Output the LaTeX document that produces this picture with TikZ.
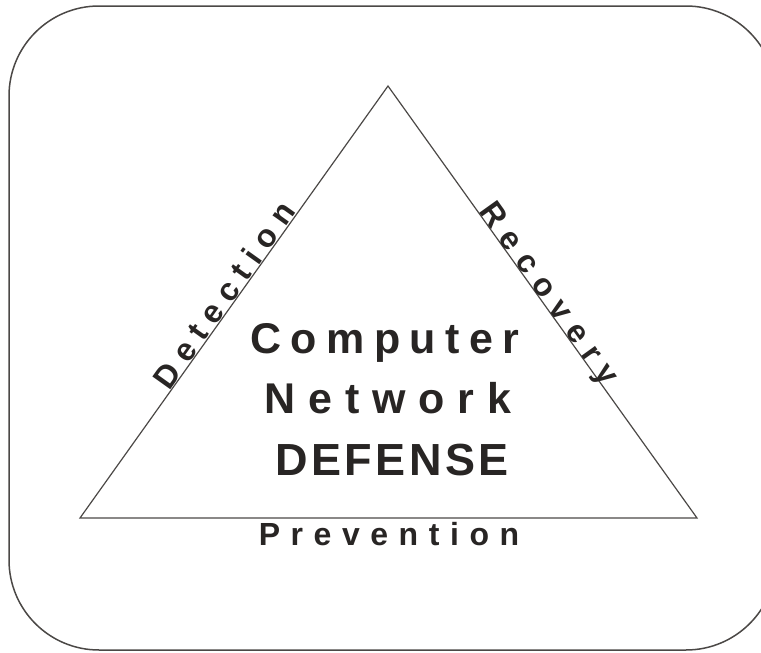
\documentclass[tikz,border=0pt]{standalone}
\usepackage{fontspec}
\setmainfont{Liberation Sans}
\definecolor{ink}{RGB}{40,37,36}
\definecolor{frame}{RGB}{75,72,70}
\newcommand{\spaced}[2]{\addfontfeatures{LetterSpace=#1}#2}
\begin{document}
\begin{tikzpicture}[x=1pt,y=-1pt,
  every node/.style={text=ink,font=\bfseries,inner sep=0pt},
  sidelabel/.style={font=\fontsize{32}{36}\selectfont\bfseries},
  biglabel/.style={font=\fontsize{43}{50}\selectfont\bfseries,anchor=base}]
\useasboundingbox (0,0) rectangle (761,653);
% outer rounded frame (runs past the right edge)
\draw[frame,line width=1.5pt,rounded corners=90pt] (9,6) rectangle (776,650);
% the triangle
\coordinate (L) at (80,518);
\coordinate (A) at (388,86);
\coordinate (R) at (697,518);
\draw[frame,line width=1.2pt,line join=miter] (L) -- (A) -- (R) -- cycle;
% side labels
\path (L) -- node[sidelabel,sloped,pos=0.5,anchor=base,yshift=1pt] (det) {\spaced{29}{Detection}} (A);
\path (A) -- node[sidelabel,sloped,pos=0.495,anchor=base,yshift=0.5pt] (rec) {\spaced{32}{Recovery}} (R);
\node[sidelabel,anchor=base] (prev) at (389,545) {\spaced{33}{Prevention}};
% centre title
\node[biglabel] (t1) at (385,353) {\spaced{22}{Computer}};
\node[biglabel] (t2) at (388,413) {\spaced{30}{Network}};
\node[biglabel,font=\fontsize{45}{50}\selectfont\bfseries] (t3) at (392,475) {\spaced{7.6}{DEFENSE}};
\end{tikzpicture}
\end{document}
